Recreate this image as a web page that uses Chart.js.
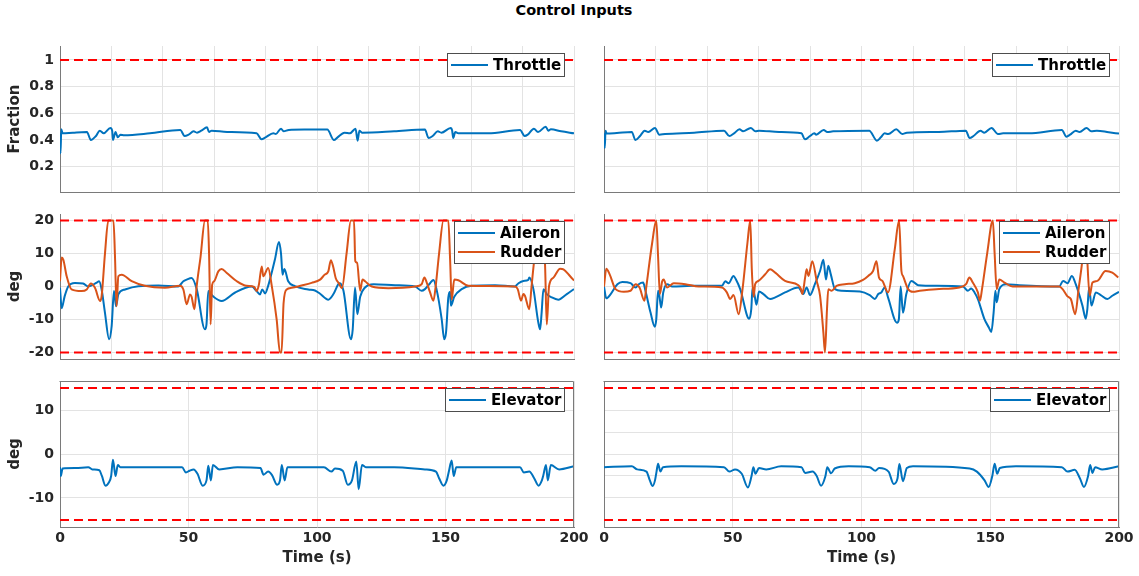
<!DOCTYPE html>
<html><head><meta charset="utf-8">
<script src="https://cdn.jsdelivr.net/npm/chart.js@4.4.0/dist/chart.umd.min.js"></script>
<style>
body{margin:0;background:#fff;width:1139px;height:576px;overflow:hidden;position:relative;}
#title{position:absolute;left:0;width:1148px;top:2px;line-height:19px;text-align:center;font:bold 14.5px 'DejaVu Sans',sans-serif;color:#000;}
canvas{position:absolute;}
</style></head><body>
<div id="title">Control Inputs</div>
<canvas id="c11"></canvas><canvas id="c12"></canvas>
<canvas id="c21"></canvas><canvas id="c22"></canvas>
<canvas id="c31"></canvas><canvas id="c32"></canvas>
<script>
// ---------- data ----------
const timeRange = [0, 200];
const xTicksTop = [0,20,40,60,80,100,120,140,160,180,200];
const xTicksBottom = [0,50,100,150,200];
const throttleTicks = [0.2,0.4,0.6,0.8,1];
const surfaceTicks = [-20,-10,0,10,20];
const elevatorTicksLeft = [-10,0,10];
const elevatorTicksRight = [-10,-5,0,5,10];
const throttleRange = [0.01, 1.105];
const surfaceRange = [-22, 22];
const elevatorRange = [-16.6, 16.6];
const throttleLimits = [1];
const surfaceLimits = [20, -20];
const elevatorLimits = [15, -15];

const throttleLeft = [[0,0.45],[0.2,0.30],[0.5,0.48],[1,0.45],[5,0.455],[10.5,0.46],[12,0.40],[14,0.43],[15.5,0.47],[17,0.45],[19.6,0.49],[20.3,0.47],[20.6,0.40],[21.6,0.46],[22.5,0.42],[23.5,0.44],[25,0.435],[35,0.45],[46.8,0.475],[48.5,0.43],[50,0.44],[52,0.465],[53.3,0.455],[55,0.47],[57.2,0.495],[58,0.46],[59,0.47],[65,0.46],[76.5,0.45],[78.4,0.405],[80,0.42],[83,0.45],[84,0.445],[86,0.485],[87,0.465],[89,0.475],[95,0.478],[104,0.478],[106.6,0.40],[108,0.42],[110.7,0.455],[112.8,0.45],[115,0.485],[115.8,0.395],[116.5,0.47],[117.5,0.455],[130,0.465],[142,0.478],[143.4,0.415],[145,0.43],[147,0.465],[148.4,0.455],[152,0.49],[152.6,0.47],[153,0.415],[153.8,0.46],[155,0.45],[166.6,0.45],[179,0.475],[180.8,0.43],[182,0.44],[184.4,0.485],[186,0.46],[189,0.5],[190,0.47],[191,0.48],[195,0.465],[200,0.45]];
const throttleRight = [[0,0.45],[0.3,0.34],[0.6,0.47],[1,0.448],[5,0.452],[10.8,0.46],[12.2,0.40],[14,0.43],[15.8,0.47],[17.2,0.46],[19.8,0.49],[21.5,0.44],[23.7,0.445],[35,0.455],[46.6,0.47],[48.7,0.43],[50.5,0.45],[52.6,0.48],[54,0.465],[57,0.49],[58.8,0.465],[60.2,0.47],[68,0.46],[76.7,0.45],[78,0.405],[80,0.43],[81.7,0.45],[82.4,0.44],[85.3,0.475],[86.7,0.46],[89,0.465],[103,0.47],[106,0.395],[107.5,0.42],[109,0.45],[110.4,0.445],[113.5,0.48],[115.8,0.445],[117.6,0.455],[130,0.46],[140.5,0.47],[142,0.415],[143.5,0.43],[146.2,0.47],[147.7,0.455],[150.5,0.49],[153,0.445],[155,0.45],[165,0.45],[177.8,0.475],[179.6,0.425],[181,0.44],[183.2,0.47],[184.7,0.46],[187.4,0.49],[189.2,0.465],[191.4,0.47],[196,0.458],[200,0.448]];

const aileronLeft = [[0,-0.4],[0.65,-6.6],[1.8,-3],[3.2,0],[5.8,1.1],[9,0.9],[11,0],[14.3,1.2],[15.2,1.6],[16.2,-0.9],[17.5,-8],[19.1,-16],[20.1,-12],[21,-1.4],[21.8,-6],[22.7,-2.4],[25.3,-0.9],[30.5,0.1],[38.3,0.3],[46,0],[48,1.6],[49.3,2.1],[51.2,2.6],[53.2,-0.8],[56.4,-13],[57,-11.5],[57.7,-1.4],[59.6,-3],[62.9,-4.4],[68,-1.9],[74.6,0],[76.5,-1.4],[77.8,-2.4],[78.7,-0.9],[79.8,-2.1],[81,0.2],[83.6,8.1],[85.2,13.5],[86,10],[86.6,3.6],[87.3,5.3],[88.8,1.6],[91.4,0.1],[96.6,-0.9],[99.2,-1.2],[101.2,-2.2],[104.4,-4],[106.4,-2.3],[108.3,0.7],[108.9,1],[110.3,-1.3],[113.2,-16],[113.9,-13],[114.8,-0.3],[115.7,-8.4],[116.8,-3.1],[118.7,-0.3],[122,0.7],[130.4,0.4],[138.2,0],[140.7,-1.3],[142,-0.8],[144,1],[145.3,2],[146.5,-0.8],[148.5,-9.8],[149.5,-16],[150.2,-14],[151.1,-3.3],[151.8,-1.6],[152.1,-5.8],[153.4,-3.1],[156.3,-0.8],[160.2,0.2],[169.3,0.4],[177,0],[178.4,1],[180.3,1.7],[182.2,2],[182.6,2.7],[184.2,-0.8],[186.1,-10.9],[186.8,-13],[187.4,-8],[188.1,-0.8],[189.4,-2.3],[191.3,-3.3],[193.9,-4],[197.2,-2.3],[200,-0.8]];
const rudderLeft = [[0,1.6],[0.65,8.8],[1.3,8.1],[2.6,3.1],[4.5,-0.9],[8.4,-1.4],[10.4,-0.9],[12,0.9],[13.6,-0.4],[15.6,-4.4],[16.2,-2.9],[17.5,10],[18.8,20],[20.8,20],[21.4,9.1],[22,-6],[22.7,3.1],[24,3.6],[27.9,1.6],[33,0.2],[40.8,-0.4],[46.7,0.2],[48,-0.9],[49.3,-5.4],[50.6,-2.4],[51.2,-3.1],[52.3,-6.9],[53.2,0.2],[54.7,9.1],[56.4,20],[57.5,20],[58,10],[58.6,-11.5],[59.2,0.5],[60,1.6],[61.6,4.6],[62.9,5.3],[64.9,4.1],[68.8,1.6],[72.6,0.2],[75.6,-0.1],[76.5,-1.4],[77.4,0.6],[78.5,6.1],[79.1,3.1],[81,5.6],[82.4,0.2],[84.3,-10],[85.6,-20],[86.2,-20],[87,-5],[88.2,-0.9],[90.1,-0.4],[94,0.3],[97.9,1.1],[101.2,2.1],[103,3.6],[104.4,4.6],[105.4,8],[106.3,6],[107.3,2.5],[108.5,1],[109.7,-0.5],[111.5,10],[113.2,20],[114.4,20],[114.9,7.7],[115.6,7.2],[116.8,-1.3],[117.7,2.1],[118.7,1.6],[121.3,0],[127.8,-0.5],[138.2,0],[140.7,0.7],[141.8,2.7],[142.7,1.2],[144,-1.8],[145.3,-4.3],[146.2,0.2],[147.5,10],[149.2,20],[151.1,20],[151.8,8],[152.4,-4],[153.4,2.1],[155,1.9],[158.9,0.2],[177,0],[178.1,-0.8],[179.4,-4.3],[180.3,-2.3],[180.9,-2.8],[182.6,-6.9],[183.5,0.2],[184.8,10],[186.8,20],[188.1,20],[188.8,5],[189.4,-11.5],[190.3,0.2],[192,2.7],[194.6,5.4],[195.9,5.2],[198.5,3.1],[200,1.8]];
const aileronRight = [[0,0],[0.9,-3.6],[2.6,-2.3],[5.2,0.7],[7.1,1.4],[10.3,1],[12.3,-0.3],[13.5,0.7],[15.2,1.2],[16.1,-1.3],[18.1,-8],[19.7,-12.2],[20.3,-10],[21,-1.3],[21.5,-2.8],[22.2,-6.4],[23,-1.8],[24.5,0.7],[26.5,0],[34.2,0.2],[45.8,0.2],[47.1,1.6],[48.4,1],[50.3,3.2],[51.2,2.2],[52.9,-0.8],[56.4,-9.8],[57.2,-6.8],[57.7,-0.3],[58.5,-2.8],[59.2,-5.5],[60.2,-1.5],[61.9,-2.3],[64.5,-3.8],[66.5,-3.3],[70.3,-1.8],[75.5,-0.3],[76.5,-1.3],[77.4,-2.3],[78.7,-0.3],[80,-2.6],[81.9,0.7],[83.9,4.7],[85.2,8.1],[86.2,2.1],[87.1,6.3],[88.1,3.6],[89.7,-0.8],[92.3,-1.3],[99.4,-1.5],[103.2,-2.6],[105.2,-3.8],[106.5,-2.3],[107.7,-1.8],[109,-0.3],[110.3,-3.3],[113.8,-11],[114.5,-10],[115.2,0],[116.1,-8],[117.4,-2.3],[119.4,1.7],[122,0.4],[129,0.2],[139.4,0],[141.3,-1.3],[142.6,-0.6],[143.9,-1.8],[145.2,-3.8],[147.7,-9.8],[149.5,-12.5],[150.4,-13.8],[151.3,-8],[152,-1.3],[152.5,-4.8],[153.5,-0.8],[156.1,0.7],[161.3,0.4],[176.8,0],[178.3,1.7],[180,1],[181.7,3.2],[183.2,0.7],[185.8,-5.8],[187.1,-9.8],[187.7,-6.9],[188.4,-0.3],[189.3,-5.8],[191,-1.8],[192.9,-2.6],[195.5,-3.8],[197.4,-2.8],[200,-1.6]];
const rudderRight = [[0,0],[0.9,5.4],[2.2,3.7],[4.5,-0.8],[7.7,-1.6],[10.3,-1.3],[12.3,0.7],[13.8,-0.3],[15.7,-4.3],[16.4,-0.3],[18.7,13.2],[20.3,20],[21,9.1],[21.7,-2.3],[22.6,1.6],[23.2,2.1],[24.5,-0.3],[27.1,1],[31.6,0.7],[36.8,0],[45.8,-0.3],[47.7,-1.8],[49,-3.8],[50.3,-2.6],[52.3,-8.4],[53.8,-0.8],[55.7,13.2],[56.8,20],[57.4,5.2],[58.1,-3.1],[58.7,0.7],[60,1.7],[62.6,3.7],[64.5,5.2],[66.5,4.2],[70.3,1.7],[75.5,0.4],[76.5,-0.8],[77,-2.3],[78.1,2.7],[78.7,5.2],[79.4,3.2],[80.9,7.7],[82.6,1.7],[83.9,-2.8],[85.2,-14],[85.8,-20],[86.6,-6.9],[87.1,-0.8],[88.4,-1.3],[90.3,0.2],[93.5,0.7],[97.4,1],[100.6,2],[102.6,3.2],[104.5,4.7],[105.8,7.7],[106.8,2.7],[108.1,1.7],[110.3,-1.8],[112.9,11.2],[114.6,20],[115.5,4.7],[116.1,3.2],[118.1,-0.8],[120,-1.6],[122.6,-1.3],[129,-0.8],[138,-0.3],[140.6,0.7],[141.9,2.7],[143.2,1.2],[145.2,-1.8],[146,-4.3],[146.8,-0.8],[148.8,10],[151,20],[151.7,10],[152.5,-0.8],[153.5,2.1],[155.5,1.2],[158.7,0],[176.8,0],[178.1,-0.8],[180,-3],[181.3,-3.8],[183,-8.4],[184.3,-0.8],[185.8,8.2],[187.1,20],[187.7,8],[188.6,-2.8],[189.7,1.2],[191.6,1.7],[194.8,4.7],[197.4,4.2],[199.7,2.7]];

const elevatorLeft = [[0,-3],[0.3,-5],[1,-3.3],[6,-3.2],[11,-3],[12.6,-3.5],[15.3,-3.7],[16.3,-5],[17.7,-7.2],[19,-6.5],[19.9,-5],[20.6,-1.3],[21.6,-5],[22.5,-2.5],[23.5,-3],[35,-3],[47.5,-3],[49,-4.2],[50.4,-3.8],[52,-3.5],[53.5,-4.5],[55.5,-7.2],[57,-6],[57.7,-2.7],[58.7,-6],[59.5,-2.5],[62,-3.5],[69,-3],[78,-3.2],[79.2,-4.7],[81,-4],[82.5,-4.8],[84.5,-7],[85.6,-6],[86.3,-2.5],[87.4,-6],[88.5,-3],[95,-3],[102.7,-3],[105.6,-4],[107,-3.3],[110,-3.8],[112,-7],[113.6,-6],[115.3,-1.7],[116.2,-8],[117.5,-2.5],[119,-3],[130,-3],[142,-3.5],[146.3,-4],[147.5,-5.5],[149.2,-7.2],[150.5,-6],[151.3,-4],[152.4,-1.5],[153.2,-5],[154.2,-3],[165,-3],[179,-3],[180.5,-4.2],[182.6,-4],[184.5,-5.5],[186.2,-7.2],[187.5,-6],[188,-5],[189.1,-2.5],[189.8,-6],[191,-2.5],[194.2,-3.5],[200,-2.8]];
const elevatorRight = [[0,-3],[10.8,-2.8],[12.9,-3.5],[16.5,-4],[17.8,-6],[18.9,-7.3],[19.8,-6],[20.4,-4],[21,-2.2],[21.9,-4],[22.9,-3],[30,-2.8],[46.6,-3],[48.7,-4],[50.9,-3.5],[53.5,-4.5],[55.9,-7.6],[57.3,-5],[58,-3],[58.8,-4.5],[60.2,-3.2],[63,-3.5],[68.8,-2.8],[76.7,-3],[78.1,-4.3],[81,-4],[82.6,-5],[84.3,-7.2],[86,-5],[86.7,-3],[88.2,-4.4],[89.6,-3.3],[95,-2.8],[103.2,-3],[105.4,-3.8],[106.8,-3.2],[110.5,-4],[112.5,-6.8],[114,-5.5],[114.7,-2.3],[116.1,-6.2],[117.6,-3.2],[120,-2.8],[142,-3.3],[144.8,-4],[147.8,-6],[149.4,-7.5],[150.8,-5],[151.7,-2.2],[152.7,-4.5],[153.7,-3.2],[160,-2.8],[177.8,-3],[180,-4],[182.8,-3.6],[184.8,-5.5],[186.4,-7.5],[188,-5],[188.8,-2.5],[189.7,-4.3],[190.7,-3],[193.5,-3.5],[200,-2.8]];

// ---------- styling ----------
const BLUE = '#0072BD', ORANGE = '#D95319', RED = '#FF0000';
const GRID = '#e3e3e3', AXIS = '#7a7a7a', TXT = '#262626';
const FONT = "'DejaVu Sans', sans-serif";
Chart.defaults.font.family = FONT;

const insideLegend = {
  id: 'insideLegend',
  afterDatasetsDraw(chart, args, opts) {
    const items = opts.items;
    if (!items || !items.length) return;
    const {ctx, chartArea: a} = chart;
    ctx.save();
    ctx.font = 'bold 15px ' + FONT;
    const lineLen = 37, padL = 4, gap = 5, padR = 3, rowH = 19, padV = 2;
    const textW = Math.max(...items.map(it => ctx.measureText(it.label).width));
    const w = Math.round(padL + lineLen + gap + textW + padR);
    const h = padV * 2 + rowH * items.length;
    const x = Math.round(a.right - 10 - w), y = Math.round(a.top + 7);
    ctx.fillStyle = '#fff'; ctx.fillRect(x, y, w, h);
    ctx.strokeStyle = '#4d4d4d'; ctx.lineWidth = 1; ctx.strokeRect(x + 0.5, y + 0.5, w, h);
    items.forEach((it, i) => {
      const cy = y + padV + rowH * (i + 0.5) + 0.5;
      ctx.strokeStyle = it.color; ctx.lineWidth = 2;
      ctx.beginPath(); ctx.moveTo(x + padL, cy); ctx.lineTo(x + padL + lineLen, cy); ctx.stroke();
      ctx.fillStyle = '#000'; ctx.textBaseline = 'middle'; ctx.textAlign = 'left';
      ctx.fillText(it.label, x + padL + lineLen + gap, cy + 1);
    });
    ctx.restore();
  }
};
const boxPlugin = {
  id: 'boxPlugin',
  afterDraw(chart, args, opts) {
    if (!opts.on) return;
    const {ctx, chartArea: a} = chart;
    ctx.save(); ctx.strokeStyle = AXIS; ctx.lineWidth = 1;
    ctx.beginPath();
    ctx.moveTo(Math.round(a.left) - 0.5, Math.round(a.top) + 0.5);
    ctx.lineTo(Math.round(a.right) - 0.5, Math.round(a.top) + 0.5);
    ctx.lineTo(Math.round(a.right) - 0.5, Math.round(a.bottom));
    ctx.stroke(); ctx.restore();
  }
};

function pts(arr) { return arr.map(p => ({x: p[0], y: p[1]})); }

function makeChart(cfg) {
  const cv = document.getElementById(cfg.id);
  cv.width = cfg.w; cv.height = cfg.h;
  cv.style.left = cfg.left + 'px'; cv.style.top = cfg.top + 'px';
  cv.style.width = cfg.w + 'px'; cv.style.height = cfg.h + 'px';
  const datasets = [];
  cfg.series.forEach((s, i) => datasets.push({
    label: s.label, data: pts(s.data), borderColor: s.color, borderWidth: 2,
    pointRadius: 0, cubicInterpolationMode: 'monotone', fill: false, order: 10 - i
  }));
  cfg.limits.forEach(v => datasets.push({
    label: '', data: [{x: timeRange[0], y: v}, {x: timeRange[1], y: v}],
    borderColor: RED, borderWidth: 2, borderDash: [9, 5], pointRadius: 0, fill: false, order: 1
  }));
  const tickFont = {family: FONT, size: 14, weight: 'bold'};
  const titleFont = {family: FONT, size: 15, weight: 'bold'};
  new Chart(cv, {
    type: 'line',
    data: {datasets},
    options: {
      responsive: false, animation: false, devicePixelRatio: 1,
      layout: {padding: {left: 0, right: cfg.padR, top: cfg.padT, bottom: 0}},
      plugins: {
        legend: {display: false}, tooltip: {enabled: false},
        insideLegend: {items: cfg.series.map(s => ({label: s.label, color: s.color}))},
        boxPlugin: {on: !!cfg.box}
      },
      scales: {
        x: {
          type: 'linear', min: timeRange[0], max: timeRange[1],
          afterBuildTicks: sc => { sc.ticks = cfg.xTicks.map(v => ({value: v})); },
          afterFit: sc => { sc.height = cfg.xh; },
          ticks: {display: !!cfg.xLabels, font: tickFont, color: TXT, padding: 3, maxRotation: 0, autoSkip: false,
                  callback: v => String(v)},
          grid: {color: GRID, drawTicks: false, lineWidth: 1},
          border: {display: true, color: AXIS, width: 1},
          title: {display: !!cfg.xTitle, text: cfg.xTitle || '', font: titleFont, color: TXT, padding: {top: 0, bottom: 8}}
        },
        y: {
          type: 'linear', min: cfg.yRange[0], max: cfg.yRange[1],
          afterBuildTicks: sc => { sc.ticks = cfg.yTicks.map(v => ({value: v})); },
          afterFit: sc => { sc.width = cfg.yw; },
          ticks: {display: !!cfg.yLabels, font: tickFont, color: TXT, padding: 6, autoSkip: false,
                  callback: v => String(Math.round(v * 100) / 100)},
          grid: {color: GRID, drawTicks: false, lineWidth: 1},
          border: {display: true, color: AXIS, width: 1},
          title: {display: !!cfg.yTitle, text: cfg.yTitle || '', font: titleFont, color: TXT, padding: {top: 6, bottom: 0}}
        }
      }
    },
    plugins: [insideLegend, boxPlugin]
  });
}

const L = {left: 0, w: 600, yw: 60, padR: 26, yLabels: true};
const R = {left: 590, w: 549, yw: 14, padR: 20, yLabels: false};
const row1 = {top: 28, h: 182, padT: 18, xh: 18, xTicks: xTicksTop, yRange: throttleRange, yTicks: throttleTicks, limits: throttleLimits};
const row2 = {top: 196, h: 181, padT: 18, xh: 18, xTicks: xTicksTop, yRange: surfaceRange, yTicks: surfaceTicks, limits: surfaceLimits};
const row3 = {top: 363, h: 212, padT: 18, xh: 48, xTicks: xTicksBottom, yRange: elevatorRange, limits: elevatorLimits, xLabels: true, xTitle: 'Time (s)', box: true};

makeChart(Object.assign({}, L, row1, {id: 'c11', yTitle: 'Fraction', series: [{label: 'Throttle', data: throttleLeft, color: BLUE}]}));
makeChart(Object.assign({}, R, row1, {id: 'c12', series: [{label: 'Throttle', data: throttleRight, color: BLUE}]}));
makeChart(Object.assign({}, L, row2, {id: 'c21', yTitle: 'deg', series: [{label: 'Aileron', data: aileronLeft, color: BLUE}, {label: 'Rudder', data: rudderLeft, color: ORANGE}]}));
makeChart(Object.assign({}, R, row2, {id: 'c22', series: [{label: 'Aileron', data: aileronRight, color: BLUE}, {label: 'Rudder', data: rudderRight, color: ORANGE}]}));
makeChart(Object.assign({}, L, row3, {id: 'c31', yTitle: 'deg', yTicks: elevatorTicksLeft, series: [{label: 'Elevator', data: elevatorLeft, color: BLUE}]}));
makeChart(Object.assign({}, R, row3, {id: 'c32', yTicks: elevatorTicksRight, series: [{label: 'Elevator', data: elevatorRight, color: BLUE}]}));
</script>
</body></html>
